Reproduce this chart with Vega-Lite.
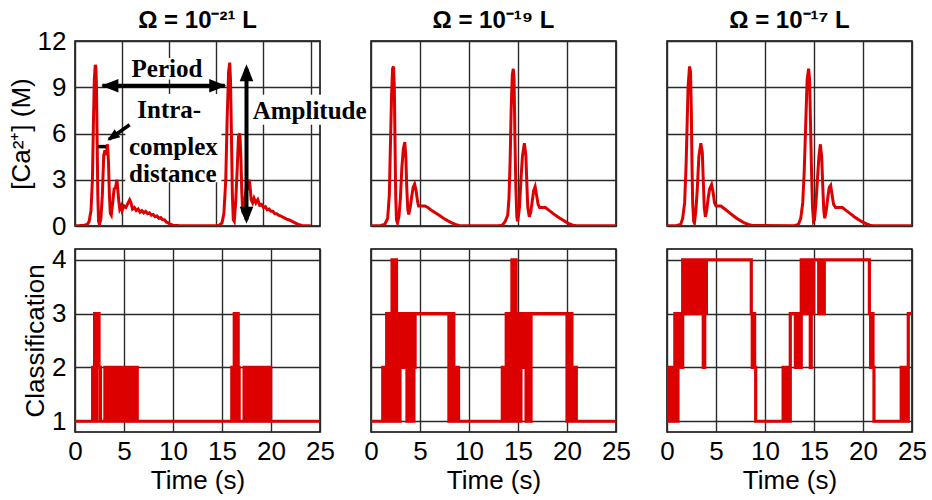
{
  "$schema": "https://vega.github.io/schema/vega-lite/v6.json",
  "background": "white",
  "padding": {"left": 7, "top": 8, "right": 5, "bottom": 0},
  "config": {
    "font": "Liberation Sans",
    "view": {"stroke": "black", "strokeWidth": 1.5},
    "axis": {"grid": true, "gridColor": "#2a2a2a", "gridWidth": 1.4, "gridOpacity": 1, "domain": false, "ticks": false, "labelFont": "Liberation Sans", "labelFontSize": 26, "labelColor": "black", "titleFont": "Liberation Sans", "titleFontSize": 26, "titleFontWeight": "normal", "titleColor": "black", "labelFlush": false, "labelOverlap": false},
    "title": {"font": "Liberation Sans", "fontSize": 24, "fontWeight": "bold", "color": "black", "offset": 8}
  },
  "datasets": {
    "ca1": [{"t":0,"c":0.02},{"t":0.5,"c":0.03},{"t":1.0,"c":0.05},{"t":1.3,"c":0.1},{"t":1.5,"c":0.3},{"t":1.7,"c":1.0},{"t":1.85,"c":3.0},{"t":1.95,"c":6.5},{"t":2.05,"c":9.5},{"t":2.15,"c":10.45},{"t":2.22,"c":10.3},{"t":2.28,"c":9.0},{"t":2.35,"c":5.5},{"t":2.42,"c":2.0},{"t":2.5,"c":0.3},{"t":2.6,"c":0.1},{"t":2.75,"c":0.5},{"t":2.9,"c":2.0},{"t":3.05,"c":4.6},{"t":3.18,"c":4.9},{"t":3.3,"c":4.6},{"t":3.45,"c":5.3},{"t":3.55,"c":4.2},{"t":3.65,"c":2.0},{"t":3.75,"c":0.8},{"t":3.85,"c":0.7},{"t":4.0,"c":1.5},{"t":4.15,"c":2.4},{"t":4.3,"c":2.5},{"t":4.45,"c":3.0},{"t":4.55,"c":2.3},{"t":4.65,"c":1.6},{"t":4.75,"c":1.1},{"t":4.9,"c":1.3},{"t":5.0,"c":1.0},{"t":5.2,"c":1.3},{"t":5.4,"c":1.2},{"t":5.6,"c":1.45},{"t":5.8,"c":1.7},{"t":5.95,"c":1.5},{"t":6.1,"c":1.1},{"t":6.3,"c":1.2},{"t":6.5,"c":1.0},{"t":6.7,"c":1.1},{"t":6.9,"c":0.9},{"t":7.1,"c":1.0},{"t":7.3,"c":0.85},{"t":7.5,"c":0.95},{"t":7.7,"c":0.8},{"t":7.9,"c":0.85},{"t":8.1,"c":0.7},{"t":8.3,"c":0.75},{"t":8.5,"c":0.6},{"t":8.7,"c":0.65},{"t":8.9,"c":0.5},{"t":9.1,"c":0.55},{"t":9.3,"c":0.4},{"t":9.5,"c":0.4},{"t":9.7,"c":0.25},{"t":9.9,"c":0.2},{"t":10.1,"c":0.12},{"t":10.4,"c":0.05},{"t":11,"c":0.03},{"t":12,"c":0.02},{"t":14,"c":0.02},{"t":15,"c":0.03},{"t":15.3,"c":0.05},{"t":15.6,"c":0.2},{"t":15.8,"c":0.8},{"t":16.0,"c":3.0},{"t":16.15,"c":7.0},{"t":16.3,"c":10.0},{"t":16.42,"c":10.6},{"t":16.5,"c":9.5},{"t":16.6,"c":6.0},{"t":16.7,"c":2.0},{"t":16.8,"c":0.4},{"t":16.9,"c":0.3},{"t":17.05,"c":1.5},{"t":17.2,"c":3.5},{"t":17.35,"c":5.8},{"t":17.5,"c":6.0},{"t":17.6,"c":4.5},{"t":17.7,"c":2.2},{"t":17.8,"c":0.9},{"t":17.9,"c":0.8},{"t":18.05,"c":1.8},{"t":18.2,"c":2.6},{"t":18.35,"c":2.5},{"t":18.5,"c":3.0},{"t":18.6,"c":2.4},{"t":18.7,"c":1.7},{"t":18.85,"c":1.5},{"t":19.0,"c":1.8},{"t":19.2,"c":1.5},{"t":19.4,"c":1.7},{"t":19.6,"c":1.35},{"t":19.8,"c":1.4},{"t":20.0,"c":1.2},{"t":20.2,"c":1.25},{"t":20.4,"c":1.05},{"t":20.6,"c":1.1},{"t":20.8,"c":0.95},{"t":21.0,"c":0.95},{"t":21.2,"c":0.8},{"t":21.4,"c":0.8},{"t":21.6,"c":0.7},{"t":21.8,"c":0.65},{"t":22.0,"c":0.6},{"t":22.3,"c":0.5},{"t":22.6,"c":0.42},{"t":22.9,"c":0.35},{"t":23.2,"c":0.25},{"t":23.5,"c":0.15},{"t":23.8,"c":0.08},{"t":24.1,"c":0.04},{"t":25,"c":0.02}],
    "ca2": [{"t":0,"c":0.02},{"t":1.0,"c":0.03},{"t":1.4,"c":0.1},{"t":1.7,"c":0.5},{"t":1.87,"c":2.0},{"t":1.97,"c":4.9},{"t":2.1,"c":8.5},{"t":2.2,"c":10.2},{"t":2.3,"c":10.35},{"t":2.38,"c":9.0},{"t":2.45,"c":5.5},{"t":2.52,"c":2.0},{"t":2.6,"c":0.4},{"t":2.7,"c":0.2},{"t":2.85,"c":0.6},{"t":3.0,"c":1.8},{"t":3.15,"c":3.8},{"t":3.3,"c":5.0},{"t":3.45,"c":5.45},{"t":3.55,"c":4.5},{"t":3.65,"c":2.5},{"t":3.75,"c":1.1},{"t":3.85,"c":0.75},{"t":4.0,"c":1.2},{"t":4.15,"c":1.9},{"t":4.3,"c":2.5},{"t":4.45,"c":2.72},{"t":4.6,"c":2.3},{"t":4.75,"c":1.6},{"t":4.85,"c":1.3},{"t":5.0,"c":1.3},{"t":5.5,"c":1.3},{"t":5.8,"c":1.2},{"t":6.2,"c":1.0},{"t":6.6,"c":0.85},{"t":7.0,"c":0.68},{"t":7.4,"c":0.5},{"t":7.8,"c":0.35},{"t":8.2,"c":0.22},{"t":8.6,"c":0.1},{"t":9.0,"c":0.04},{"t":9.5,"c":0.02},{"t":13.0,"c":0.02},{"t":13.4,"c":0.05},{"t":13.7,"c":0.3},{"t":13.95,"c":0.7},{"t":14.08,"c":1.8},{"t":14.2,"c":4.3},{"t":14.3,"c":7.5},{"t":14.42,"c":9.8},{"t":14.52,"c":10.2},{"t":14.6,"c":9.5},{"t":14.68,"c":6.0},{"t":14.78,"c":2.5},{"t":14.88,"c":0.6},{"t":14.97,"c":0.3},{"t":15.15,"c":1.2},{"t":15.3,"c":3.0},{"t":15.45,"c":4.5},{"t":15.65,"c":5.37},{"t":15.8,"c":4.6},{"t":15.9,"c":2.8},{"t":16.0,"c":1.2},{"t":16.15,"c":0.6},{"t":16.3,"c":0.9},{"t":16.45,"c":1.6},{"t":16.6,"c":2.3},{"t":16.75,"c":2.56},{"t":16.9,"c":2.0},{"t":17.05,"c":1.4},{"t":17.2,"c":1.2},{"t":17.8,"c":1.2},{"t":18.2,"c":1.0},{"t":18.6,"c":0.8},{"t":19.0,"c":0.62},{"t":19.4,"c":0.45},{"t":19.8,"c":0.3},{"t":20.2,"c":0.15},{"t":20.6,"c":0.05},{"t":21.0,"c":0.02},{"t":25,"c":0.02}],
    "ca3": [{"t":0,"c":0.02},{"t":1.0,"c":0.03},{"t":1.4,"c":0.1},{"t":1.6,"c":0.5},{"t":1.8,"c":1.5},{"t":1.95,"c":4.0},{"t":2.05,"c":6.5},{"t":2.15,"c":9.0},{"t":2.3,"c":10.35},{"t":2.4,"c":10.0},{"t":2.48,"c":7.5},{"t":2.55,"c":4.0},{"t":2.62,"c":1.5},{"t":2.72,"c":0.3},{"t":2.8,"c":0.2},{"t":2.95,"c":1.0},{"t":3.1,"c":2.5},{"t":3.25,"c":4.5},{"t":3.45,"c":5.37},{"t":3.6,"c":4.8},{"t":3.7,"c":3.0},{"t":3.8,"c":1.2},{"t":3.92,"c":0.6},{"t":4.05,"c":1.0},{"t":4.2,"c":1.8},{"t":4.35,"c":2.4},{"t":4.55,"c":2.68},{"t":4.7,"c":2.2},{"t":4.85,"c":1.5},{"t":5.0,"c":1.3},{"t":5.5,"c":1.3},{"t":5.9,"c":1.1},{"t":6.3,"c":0.9},{"t":6.7,"c":0.7},{"t":7.1,"c":0.5},{"t":7.5,"c":0.35},{"t":7.9,"c":0.2},{"t":8.3,"c":0.1},{"t":8.7,"c":0.03},{"t":13.0,"c":0.02},{"t":13.4,"c":0.1},{"t":13.65,"c":0.5},{"t":13.85,"c":1.5},{"t":14.0,"c":3.5},{"t":14.15,"c":6.5},{"t":14.3,"c":9.5},{"t":14.45,"c":10.2},{"t":14.55,"c":9.5},{"t":14.65,"c":6.5},{"t":14.75,"c":3.5},{"t":14.85,"c":1.2},{"t":14.95,"c":0.3},{"t":15.05,"c":0.4},{"t":15.2,"c":1.5},{"t":15.35,"c":3.0},{"t":15.5,"c":4.5},{"t":15.65,"c":5.3},{"t":15.78,"c":4.5},{"t":15.9,"c":2.5},{"t":16.0,"c":1.0},{"t":16.1,"c":0.5},{"t":16.25,"c":1.0},{"t":16.4,"c":1.8},{"t":16.55,"c":2.5},{"t":16.7,"c":2.64},{"t":16.85,"c":2.0},{"t":17.0,"c":1.4},{"t":17.2,"c":1.2},{"t":17.9,"c":1.2},{"t":18.3,"c":1.0},{"t":18.7,"c":0.8},{"t":19.1,"c":0.6},{"t":19.5,"c":0.43},{"t":19.9,"c":0.28},{"t":20.3,"c":0.15},{"t":20.7,"c":0.05},{"t":21.0,"c":0.02},{"t":25,"c":0.02}],
    "cl1": [{"t":0,"v":1},{"t":1.8,"v":2},{"t":1.95,"v":1},{"t":2.0,"v":3},{"t":2.2,"v":1},{"t":2.25,"v":3},{"t":2.45,"v":2},{"t":2.6,"v":1},{"t":3.05,"v":2},{"t":3.2,"v":1},{"t":3.35,"v":2},{"t":3.5,"v":1},{"t":3.65,"v":2},{"t":3.8,"v":1},{"t":3.95,"v":2},{"t":4.1,"v":1},{"t":4.25,"v":2},{"t":4.4,"v":1},{"t":4.55,"v":2},{"t":4.7,"v":1},{"t":4.85,"v":2},{"t":5.0,"v":1},{"t":5.15,"v":2},{"t":5.3,"v":1},{"t":5.45,"v":2},{"t":5.6,"v":1},{"t":5.75,"v":2},{"t":5.9,"v":1},{"t":6.05,"v":2},{"t":6.35,"v":1},{"t":16.0,"v":2},{"t":16.15,"v":1},{"t":16.25,"v":3},{"t":16.45,"v":1},{"t":16.5,"v":3},{"t":16.65,"v":2},{"t":16.75,"v":1},{"t":17.25,"v":2},{"t":17.4,"v":1},{"t":17.55,"v":2},{"t":17.7,"v":1},{"t":17.85,"v":2},{"t":18.0,"v":1},{"t":18.3,"v":2},{"t":18.45,"v":1},{"t":18.6,"v":2},{"t":18.75,"v":1},{"t":18.9,"v":2},{"t":19.05,"v":1},{"t":19.2,"v":2},{"t":19.35,"v":1},{"t":19.5,"v":2},{"t":19.65,"v":1},{"t":19.8,"v":2},{"t":19.97,"v":1},{"t":25,"v":1}],
    "cl2": [{"t":0,"v":1},{"t":1.2,"v":2},{"t":1.35,"v":1},{"t":1.5,"v":2},{"t":1.6,"v":3},{"t":1.75,"v":1},{"t":1.9,"v":3},{"t":2.05,"v":1},{"t":2.15,"v":4},{"t":2.3,"v":1},{"t":2.45,"v":4},{"t":2.6,"v":1},{"t":2.75,"v":3},{"t":2.9,"v":1},{"t":2.96,"v":2},{"t":3.06,"v":3},{"t":3.12,"v":2},{"t":3.18,"v":3},{"t":3.28,"v":2},{"t":3.38,"v":3},{"t":3.48,"v":2},{"t":3.57,"v":3},{"t":3.67,"v":1},{"t":3.8,"v":3},{"t":3.9,"v":2},{"t":4.0,"v":3},{"t":4.1,"v":1},{"t":4.22,"v":3},{"t":4.3,"v":1},{"t":4.38,"v":3},{"t":4.42,"v":2},{"t":4.5,"v":3},{"t":7.95,"v":1},{"t":8.08,"v":3},{"t":8.2,"v":1},{"t":8.32,"v":3},{"t":8.45,"v":1},{"t":8.55,"v":2},{"t":8.68,"v":1},{"t":8.8,"v":2},{"t":8.93,"v":1},{"t":13.4,"v":2},{"t":13.55,"v":1},{"t":13.7,"v":2},{"t":13.8,"v":3},{"t":13.95,"v":1},{"t":14.1,"v":3},{"t":14.25,"v":1},{"t":14.38,"v":4},{"t":14.55,"v":1},{"t":14.65,"v":4},{"t":14.8,"v":3},{"t":14.9,"v":1},{"t":15.05,"v":3},{"t":15.15,"v":1},{"t":15.3,"v":3},{"t":15.48,"v":2},{"t":15.6,"v":3},{"t":15.7,"v":2},{"t":15.82,"v":1},{"t":15.95,"v":3},{"t":16.08,"v":1},{"t":16.2,"v":3},{"t":16.3,"v":1},{"t":16.33,"v":3},{"t":20.0,"v":1},{"t":20.13,"v":3},{"t":20.25,"v":1},{"t":20.38,"v":3},{"t":20.5,"v":1},{"t":20.58,"v":2},{"t":20.7,"v":1},{"t":20.82,"v":2},{"t":20.95,"v":1},{"t":25,"v":1}],
    "cl3": [{"t":0,"v":2},{"t":0.15,"v":1},{"t":0.3,"v":2},{"t":0.45,"v":1},{"t":0.6,"v":2},{"t":0.72,"v":1},{"t":0.8,"v":3},{"t":0.92,"v":2},{"t":1.0,"v":1},{"t":1.12,"v":3},{"t":1.25,"v":2},{"t":1.37,"v":3},{"t":1.5,"v":2},{"t":1.6,"v":4},{"t":1.72,"v":3},{"t":1.85,"v":4},{"t":1.97,"v":3},{"t":2.1,"v":4},{"t":2.22,"v":3},{"t":2.3,"v":4},{"t":2.45,"v":3},{"t":2.57,"v":4},{"t":2.7,"v":3},{"t":2.82,"v":4},{"t":2.95,"v":3},{"t":3.07,"v":4},{"t":3.2,"v":3},{"t":3.32,"v":4},{"t":3.45,"v":3},{"t":3.57,"v":4},{"t":3.7,"v":2},{"t":3.85,"v":4},{"t":3.95,"v":3},{"t":4.02,"v":4},{"t":8.6,"v":3},{"t":8.7,"v":2},{"t":8.82,"v":3},{"t":8.94,"v":2},{"t":9.05,"v":1},{"t":11.85,"v":2},{"t":11.97,"v":1},{"t":12.1,"v":2},{"t":12.22,"v":1},{"t":12.35,"v":2},{"t":12.47,"v":1},{"t":12.58,"v":3},{"t":13.1,"v":2},{"t":13.22,"v":3},{"t":13.34,"v":2},{"t":13.46,"v":3},{"t":13.58,"v":2},{"t":13.7,"v":4},{"t":13.82,"v":3},{"t":13.94,"v":4},{"t":14.06,"v":3},{"t":14.18,"v":4},{"t":14.3,"v":3},{"t":14.42,"v":4},{"t":14.62,"v":2},{"t":14.72,"v":4},{"t":14.85,"v":3},{"t":14.97,"v":4},{"t":15.48,"v":3},{"t":15.6,"v":4},{"t":15.72,"v":3},{"t":15.84,"v":4},{"t":15.96,"v":3},{"t":16.05,"v":4},{"t":20.65,"v":3},{"t":20.78,"v":2},{"t":20.9,"v":3},{"t":21.02,"v":2},{"t":21.12,"v":1},{"t":23.9,"v":2},{"t":24.02,"v":1},{"t":24.14,"v":2},{"t":24.26,"v":1},{"t":24.38,"v":2},{"t":24.5,"v":1},{"t":24.62,"v":3},{"t":25,"v":3}]
  },
  "columns": 3,
  "bounds": "flush",
  "spacing": {"row": 23, "column": 51},
  "concat": [
    {
      "width": 245, "height": 185,
      "title": {"text": "Ω = 10⁻²¹ L", "offset": -5},
      "layer": [
        {
          "data": {"values": [{"t":5.5,"t2":13.4,"c":9.5,"c2":10.9},{"t":5.34,"t2":15.54,"c":2.83,"c2":8.56},{"t":18.95,"t2":30.85,"c":6.57,"c2":8.52}]},
          "mark": {"type": "rect", "fill": "white", "clip": false},
          "encoding": {
            "x": {"field": "t", "type": "quantitative", "scale": {"domain": [0, 25]}, "axis": {"values": [0,5,10,15,20,25], "labels": false, "title": null}},
            "x2": {"field": "t2"},
            "y": {"field": "c", "type": "quantitative", "scale": {"domain": [0, 12]}, "axis": {"values": [0,3,6,9,12], "title": "[Ca²⁺] (M)", "labelPadding": 9, "titlePadding": 3}},
            "y2": {"field": "c2"}
          }
        },
        {
          "data": {"name": "ca1"},
          "mark": {"type": "line", "color": "#dd0000", "strokeWidth": 3, "clip": true},
          "encoding": {
            "x": {"field": "t", "type": "quantitative"},
            "y": {"field": "c", "type": "quantitative"}
          }
        },
        {
          "data": {"values": [{"t":2.9,"t2":15.9,"c":9.1,"c2":9.1},{"t":18.2,"t2":18.2,"c":0.4,"c2":10.2}]},
          "mark": {"type": "rule", "color": "black", "strokeWidth": 4},
          "encoding": {"x": {"field": "t", "type": "quantitative"}, "x2": {"field": "t2"}, "y": {"field": "c", "type": "quantitative"}, "y2": {"field": "c2"}}
        },
        {
          "data": {"values": [{"t":3.6,"t2":5.8,"c":5.62,"c2":6.57},{"t":2.45,"t2":3.3,"c":5.15,"c2":5.15}]},
          "mark": {"type": "rule", "color": "black", "strokeWidth": 3.5},
          "encoding": {"x": {"field": "t", "type": "quantitative"}, "x2": {"field": "t2"}, "y": {"field": "c", "type": "quantitative"}, "y2": {"field": "c2"}}
        },
        {
          "data": {"values": [{"t":2.8,"c":9.1}]},
          "mark": {"type": "point", "shape": "M0,0L2,-0.8L2,0.8Z", "size": 289, "filled": true, "color": "black", "opacity": 1},
          "encoding": {"x": {"field": "t", "type": "quantitative"}, "y": {"field": "c", "type": "quantitative"}}
        },
        {
          "data": {"values": [{"t":16.05,"c":9.1}]},
          "mark": {"type": "point", "shape": "M0,0L-2,-0.8L-2,0.8Z", "size": 289, "filled": true, "color": "black", "opacity": 1},
          "encoding": {"x": {"field": "t", "type": "quantitative"}, "y": {"field": "c", "type": "quantitative"}}
        },
        {
          "data": {"values": [{"t":18.2,"c":10.5}]},
          "mark": {"type": "point", "shape": "M0,0L-0.8,2L0.8,2Z", "size": 289, "filled": true, "color": "black", "opacity": 1},
          "encoding": {"x": {"field": "t", "type": "quantitative"}, "y": {"field": "c", "type": "quantitative"}}
        },
        {
          "data": {"values": [{"t":18.2,"c":0.15}]},
          "mark": {"type": "point", "shape": "M0,0L-0.8,-2L0.8,-2Z", "size": 289, "filled": true, "color": "black", "opacity": 1},
          "encoding": {"x": {"field": "t", "type": "quantitative"}, "y": {"field": "c", "type": "quantitative"}}
        },
        {
          "data": {"values": [{"t":3.45,"c":5.55}]},
          "mark": {"type": "point", "shape": "M0,0L2,-0.8L2,0.8Z", "size": 150, "angle": -36, "filled": true, "color": "black", "opacity": 1},
          "encoding": {"x": {"field": "t", "type": "quantitative"}, "y": {"field": "c", "type": "quantitative"}}
        },
        {
          "data": {"values": [{"t":9.76,"c":10.19,"label":"Period"},{"t":10.0,"c":7.54,"label":"Intra-"},{"t":10.44,"c":5.11,"label":"complex"},{"t":10.38,"c":3.38,"label":"distance"},{"t":24.9,"c":7.49,"label":"Amplitude"}]},
          "mark": {"type": "text", "font": "Liberation Serif", "fontWeight": "bold", "fontSize": 25, "color": "black", "align": "center", "baseline": "middle", "clip": false},
          "encoding": {"x": {"field": "t", "type": "quantitative"}, "y": {"field": "c", "type": "quantitative"}, "text": {"field": "label"}}
        }
      ]
    },
    {
      "width": 245, "height": 185,
      "title": {"text": "Ω = 10⁻¹⁹ L"},
      "data": {"name": "ca2"},
      "mark": {"type": "line", "color": "#dd0000", "strokeWidth": 3, "clip": true},
      "encoding": {
        "x": {"field": "t", "type": "quantitative", "scale": {"domain": [0, 25]}, "axis": {"values": [0,5,10,15,20,25], "labels": false, "title": null}},
        "y": {"field": "c", "type": "quantitative", "scale": {"domain": [0, 12]}, "axis": {"values": [0,3,6,9,12], "labels": false, "title": null}}
      }
    },
    {
      "width": 245, "height": 185,
      "title": {"text": "Ω = 10⁻¹⁷ L"},
      "data": {"name": "ca3"},
      "mark": {"type": "line", "color": "#dd0000", "strokeWidth": 3, "clip": true},
      "encoding": {
        "x": {"field": "t", "type": "quantitative", "scale": {"domain": [0, 25]}, "axis": {"values": [0,5,10,15,20,25], "labels": false, "title": null}},
        "y": {"field": "c", "type": "quantitative", "scale": {"domain": [0, 12]}, "axis": {"values": [0,3,6,9,12], "labels": false, "title": null}}
      }
    },
    {
      "width": 245, "height": 183,
      "data": {"name": "cl1"},
      "mark": {"type": "line", "color": "#dd0000", "strokeWidth": 3.2, "interpolate": "step-after", "clip": true},
      "encoding": {
        "x": {"field": "t", "type": "quantitative", "scale": {"domain": [0, 25]}, "axis": {"values": [0,5,10,15,20,25], "title": "Time (s)", "labelPadding": 6, "titlePadding": 3}},
        "y": {"field": "v", "type": "quantitative", "scale": {"domain": [0.8, 4.2], "nice": false}, "axis": {"values": [1,2,3,4], "title": "Classification", "labelPadding": 9, "titlePadding": 3}}
      }
    },
    {
      "width": 245, "height": 183,
      "data": {"name": "cl2"},
      "mark": {"type": "line", "color": "#dd0000", "strokeWidth": 3.2, "interpolate": "step-after", "clip": true},
      "encoding": {
        "x": {"field": "t", "type": "quantitative", "scale": {"domain": [0, 25]}, "axis": {"values": [0,5,10,15,20,25], "title": "Time (s)", "labelPadding": 6, "titlePadding": 3}},
        "y": {"field": "v", "type": "quantitative", "scale": {"domain": [0.8, 4.2], "nice": false}, "axis": {"values": [1,2,3,4], "labels": false, "title": null}}
      }
    },
    {
      "width": 245, "height": 183,
      "data": {"name": "cl3"},
      "mark": {"type": "line", "color": "#dd0000", "strokeWidth": 3.2, "interpolate": "step-after", "clip": true},
      "encoding": {
        "x": {"field": "t", "type": "quantitative", "scale": {"domain": [0, 25]}, "axis": {"values": [0,5,10,15,20,25], "title": "Time (s)", "labelPadding": 6, "titlePadding": 3}},
        "y": {"field": "v", "type": "quantitative", "scale": {"domain": [0.8, 4.2], "nice": false}, "axis": {"values": [1,2,3,4], "labels": false, "title": null}}
      }
    }
  ]
}
